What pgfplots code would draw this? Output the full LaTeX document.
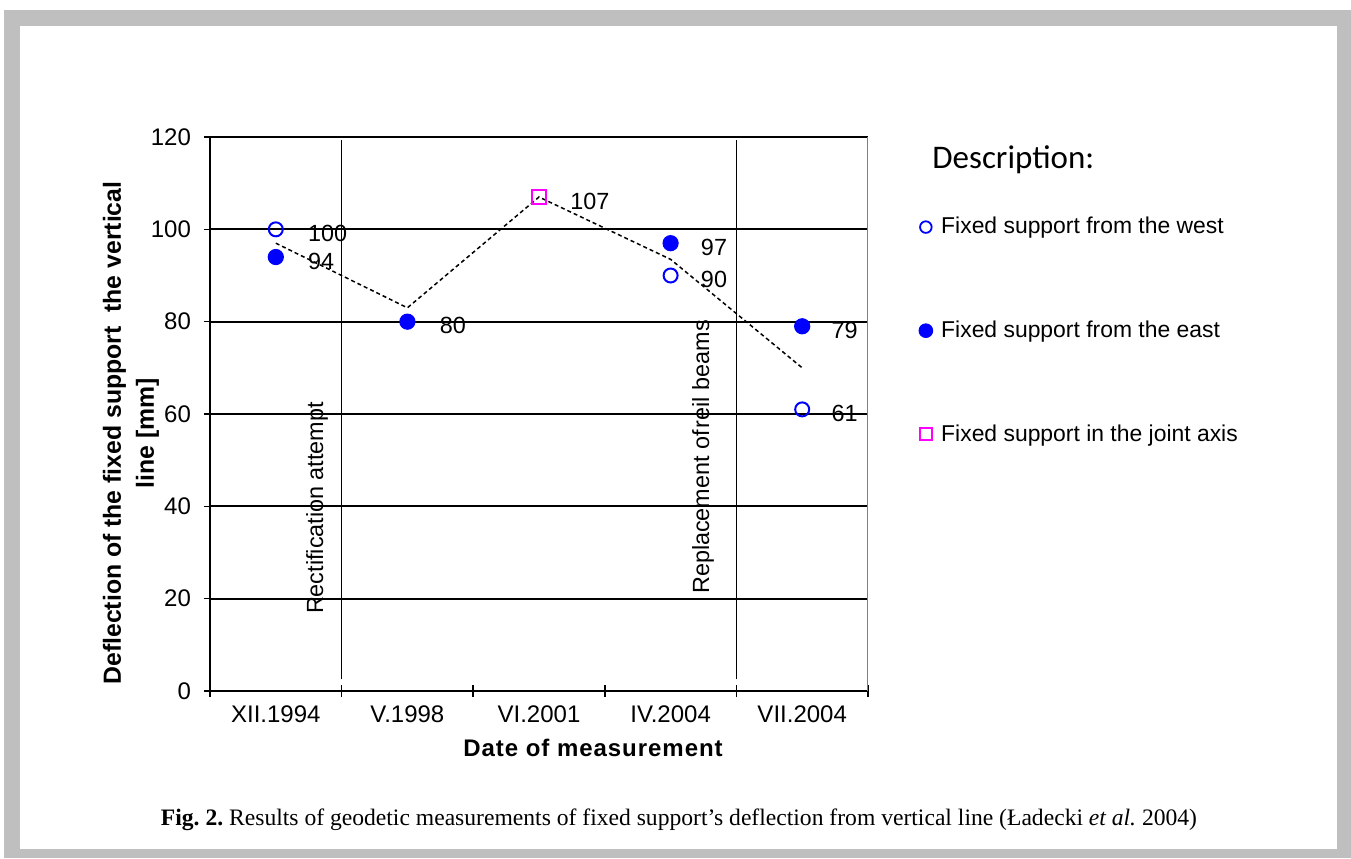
\documentclass[border=0pt]{standalone}
\usepackage{pgfplots}
\pgfplotsset{compat=1.18}
\usepackage{fontspec}
\setmainfont{Liberation Sans}
\newfontfamily\timesfont{Liberation Serif}
\newfontfamily\calibrifont{Carlito}
\definecolor{mkblue}{RGB}{0,0,255}
\definecolor{mkmag}{RGB}{255,0,255}
\definecolor{framegray}{RGB}{191,191,191}
\newcommand{\lab}{\fontsize{11.7}{13}\selectfont}
\newcommand{\leglab}{\fontsize{11.45}{13}\selectfont}
\newcommand{\tlab}{\fontsize{12}{13}\selectfont}
\frenchspacing
\begin{document}
\begin{tikzpicture}[x=0.5pt,y=0.5pt]
\fill[white] (0,0) rectangle (1351,858);
\fill[framegray] (4,0) rectangle (1351,848);
\fill[white] (20,9) rectangle (1337,832);
\begin{axis}[
  at={(105pt,83.5pt)}, anchor=south west,
  scale only axis, width=329pt, height=277pt,
  xmin=0.5, xmax=5.5, ymin=0, ymax=120,
  ytick={0,20,...,120},
  xtick={0.5,1.5,...,5.5}, xticklabels={},
  extra x ticks={1,2,3,4,5},
  extra x tick labels={XII.1994,V.1998,VI.2001,IV.2004,VII.2004},
  extra x tick style={major tick length=0pt, grid=none},
  axis lines=left,
  axis line style={-, black, line width=0.9pt},
  ymajorgrids,
  grid style={black, line width=0.85pt},
  tick align=center,
  major tick length=6pt,
  tick style={black, line width=0.8pt},
  tick label style={font=\tlab},
  /pgf/number format/assume math mode=true,
  xticklabel style={yshift=-4pt},
  yticklabel style={xshift=-3pt},
  clip=false,
  legend style={at={(1.077,0.863)}, anchor=north west, draw=none, fill=none,
    font=\leglab, row sep=38pt, inner sep=0pt,
    /tikz/every even column/.style={column sep=0pt}},
  legend cell align=left,
]
\draw[gray, line width=0.5pt] (rel axis cs:1,0) -- (rel axis cs:1,1);
\addplot[only marks, mark=o, mark size=3.5pt, draw=mkblue, line width=1pt,
  legend image code/.code={\draw[mark size=2.9pt, line width=0.9pt] plot[mark=o] coordinates {(0pt,0pt)};}]
  coordinates {(1,100) (4,90) (5,61)};
\addlegendentry{\hspace{0.2em}Fixed support from the west}
\addplot[only marks, mark=*, mark size=3.8pt, draw=mkblue, fill=mkblue, line width=0.5pt,
  legend image code/.code={\draw[mark size=3.4pt, line width=0.5pt] plot[mark=*] coordinates {(0pt,0pt)};}]
  coordinates {(1,94) (2,80) (4,97) (5,79)};
\addlegendentry{\hspace{0.2em}Fixed support from the east}
\addplot[only marks, mark=square, mark size=3.6pt, draw=mkmag, line width=1pt,
  legend image code/.code={\draw[mark size=3pt, line width=0.9pt] plot[mark=square] coordinates {(0pt,0pt)};}]
  coordinates {(3,107)};
\addlegendentry{\hspace{0.2em}Fixed support in the joint axis}
\addplot[black, line width=0.75pt, dash pattern=on 2pt off 1.5pt, forget plot]
  coordinates {(1,97) (2,83) (3,107) (4,93.5) (5,70)};
\addplot[black, line width=0.8pt, forget plot] coordinates {(1.5,2.5) (1.5,119.3)};
\addplot[black, line width=0.8pt, forget plot] coordinates {(4.5,2.5) (4.5,119.3)};
\begin{scope}[every node/.style={font=\lab, anchor=west, inner sep=0pt, yshift=-2pt}]
\node at (axis cs:1,100) [xshift=16pt] {100};
\node at (axis cs:1,94) [xshift=16pt] {94};
\node at (axis cs:2,80) [xshift=16pt] {80};
\node at (axis cs:3,107) [xshift=15.5pt] {107};
\node at (axis cs:4,97) [xshift=15pt] {97};
\node at (axis cs:4,90) [xshift=15pt] {90};
\node at (axis cs:5,79) [xshift=14.5pt] {79};
\node at (axis cs:5,61) [xshift=14.5pt] {61};
\end{scope}
\end{axis}
\node[rotate=90, font=\lab, inner sep=0pt] at (317,350) {Rectification attempt};
\node[rotate=90, font=\lab, inner sep=0pt] at (703,401) {Replacement of\hspace{0.08em}reil beams};
\node[rotate=90, align=center, inner sep=0pt, font=\fontsize{12.4}{16.5}\selectfont\bfseries] at (131,425)
  {Deflection of the fixed support \ the vertical\\line [mm]};
\node[inner sep=0pt, font=\fontsize{12}{14}\selectfont\bfseries\addfontfeature{LetterSpace=4}] at (593,110) {Date of measurement};
\node[anchor=west, inner sep=0pt, font=\calibrifont\fontsize{16.5}{19}\selectfont] at (932,698) {Description:};
\node[inner sep=0pt, font=\timesfont\fontsize{11.8}{13}\selectfont] at (679,38)
  {\textbf{Fig. 2.} Results of geodetic measurements of fixed support’s deflection from vertical line (Ładecki \textit{et al.} 2004)};
\end{tikzpicture}
\end{document}
